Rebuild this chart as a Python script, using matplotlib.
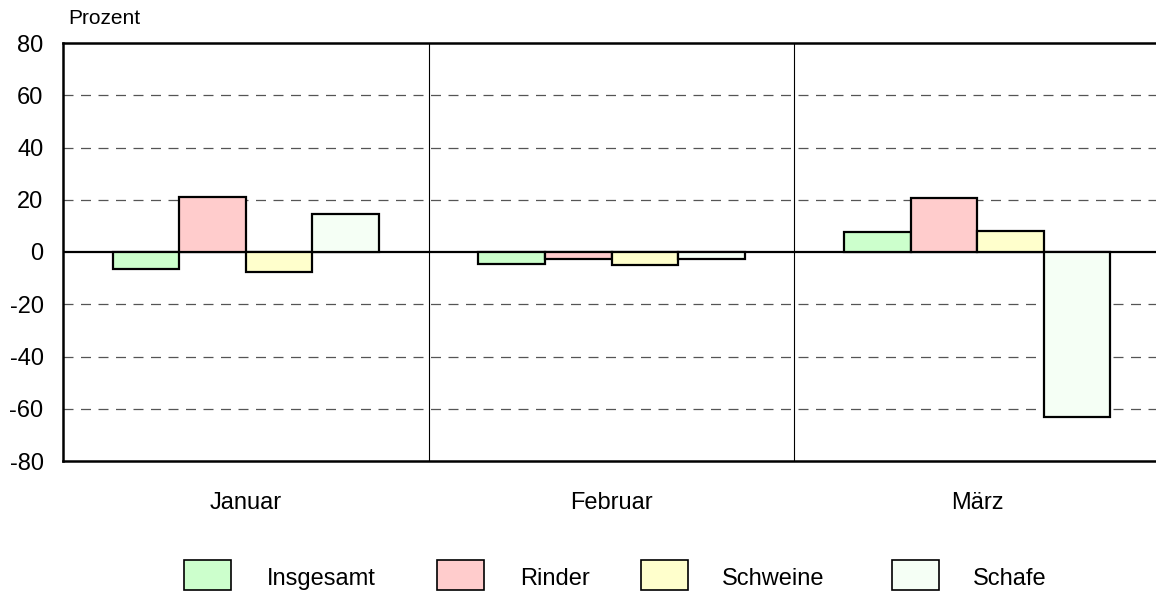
import matplotlib
matplotlib.use("Agg")
import matplotlib.pyplot as plt
from matplotlib.patches import Rectangle
import numpy as np

plt.rcParams['font.family'] = ['Liberation Sans', 'DejaVu Sans']

months = ["Januar", "Februar", "März"]
series = ["Insgesamt", "Rinder", "Schweine", "Schafe"]
insgesamt = [-6.5, -4.5, 7.5]
rinder = [21.0, -2.5, 20.5]
schweine = [-7.5, -5.0, 8.0]
schafe = [14.5, -2.5, -63.0]
colors = ["#CCFFCC", "#FFCCCC", "#FFFFCC", "#F5FFF5"]
yticks = [-80, -60, -40, -20, 0, 20, 40, 60, 80]

W, H = 1156, 594
fig = plt.figure(figsize=(W/100, H/100), dpi=100)
left, right, top, bottom = 63, 1160, 43, 461
ax = fig.add_axes([left/W, 1-bottom/H, (right-left)/W, (bottom-top)/H])

x = np.arange(len(months))
bw = 0.182
data = [insgesamt, rinder, schweine, schafe]
for i, (vals, c) in enumerate(zip(data, colors)):
    ax.bar(x + (i-1.5)*bw, vals, width=bw, color=c, edgecolor='black',
           linewidth=1.6, zorder=3)

ax.set_xlim(-0.5, 2.5)
ax.set_ylim(-80, 80)
ax.set_yticks(yticks)
ax.set_yticklabels([str(v) for v in yticks], fontsize=17)
ax.set_xticks(x)
ax.set_xticklabels(months, fontsize=17)
ax.tick_params(axis='y', length=0, pad=14)
ax.tick_params(axis='x', length=0, pad=22.5)

for v in yticks[1:-1]:
    if v == 0:
        ax.axhline(0, color='black', linewidth=1.6, zorder=2)
    else:
        ax.axhline(v, color='#555555', linewidth=0.9, linestyle=(0, (8, 6)), zorder=1)
for xv in [0.5, 1.5]:
    ax.axvline(xv, color='black', linewidth=0.8, zorder=1)

for s in ['left', 'top', 'bottom']:
    ax.spines[s].set_linewidth(1.8)
ax.spines['right'].set_visible(False)

fig.text(68/W, 1-18/H, "Prozent", fontsize=15, va='center', ha='left')

# legend
patch_x = [184, 437, 641, 892]
text_x = [267, 520, 722, 973]
for px, tx, c, name in zip(patch_x, text_x, colors, series):
    fig.add_artist(Rectangle((px/W, 1-590/H), 47/W, 30/H, transform=fig.transFigure,
                             facecolor=c, edgecolor='black', linewidth=1.2))
    fig.text(tx/W, 1-579/H, name, fontsize=17, va='center', ha='left')

fig.savefig("out.png", dpi=100)
